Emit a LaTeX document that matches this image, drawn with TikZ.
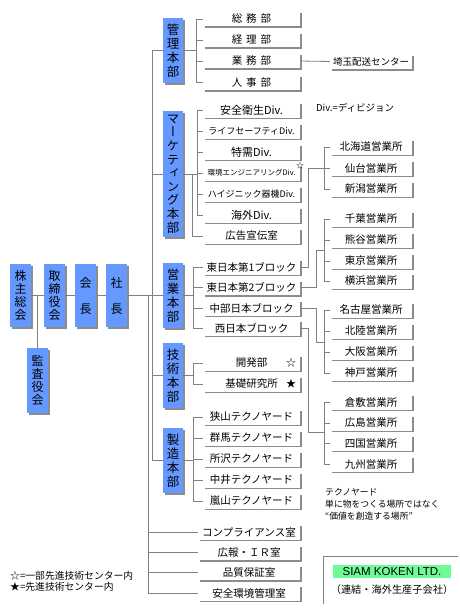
\documentclass[tikz,border=0pt]{standalone}
\usepackage{fontspec}
\setmainfont{Noto Sans CJK JP}
\newfontfamily\jpv[RawFeature=+vert]{Noto Sans CJK JP}
\newfontfamily\arialf{Liberation Sans}
\usetikzlibrary{shadows}
\definecolor{bluebox}{RGB}{102,153,255}
\definecolor{greenbox}{RGB}{110,250,150}
\definecolor{linegray}{RGB}{128,128,128}
\tikzset{
  shad/.style={drop shadow={shadow xshift=1.8pt, shadow yshift=-1.8pt, fill=black, opacity=0.45}},
  wbox/.style={shad, fill=white, minimum width=97pt, minimum height=15pt, inner sep=0pt, font=\fontsize{10.5}{12}\selectfont},
  obox/.style={wbox, minimum width=82pt},
  sbox/.style={wbox, minimum width=102pt},
  bbox/.style={shad, fill=bluebox, minimum width=20pt, inner sep=0pt, align=center, font=\jpv\fontsize{12.5}{14}\selectfont},
  lbox/.style={bbox, minimum width=21pt, minimum height=63pt, font=\jpv\fontsize{12}{13}\selectfont},
  conn/.style={draw=linegray, line width=0.8pt},
  note/.style={inner sep=0pt, align=left},
}
\begin{document}
\begin{tikzpicture}[x=1pt,y=-1pt]
\useasboundingbox[fill=white] (0,0) rectangle (460,610);

% left chain
\node[lbox] (kabunushi) at (20.5,295.5) {株\\主\\総\\会};
\node[lbox] (torishimari) at (54.5,295.5) {取\\締\\役\\会};
\node[lbox] (kaicho) at (85.5,295.5) {会\\[13pt]長};
\node[lbox] (shacho) at (116.5,295.5) {社\\[13pt]長};
\node[lbox, minimum height=65pt] (kansa) at (37.5,380.5) {監\\査\\役\\会};

% divisions
\node[bbox, minimum height=65pt] (kanri) at (173,50.5) {管\\理\\本\\部};
\node[bbox, minimum height=126pt, font=\jpv\fontsize{12.5}{13.6}\selectfont] (mkt) at (173,174) {マ\\ー\\ケ\\テ\\ィ\\ン\\グ\\本\\部};
\node[bbox, minimum height=65pt] (eigyo) at (173,295.5) {営\\業\\本\\部};
\node[bbox, minimum height=65pt] (gijutsu) at (173,375.5) {技\\術\\本\\部};
\node[bbox, minimum height=65pt] (seizo) at (173,460.5) {製\\造\\本\\部};

% kanri boxes
\node[wbox] (soumu) at (251.5,19) {総\hspace{4pt}務\hspace{4pt}部};
\node[wbox] (keiri) at (251.5,40) {経\hspace{4pt}理\hspace{4pt}部};
\node[wbox] (gyomu) at (251.5,61) {業\hspace{4pt}務\hspace{4pt}部};
\node[wbox] (jinji) at (251.5,82.5) {人\hspace{4pt}事\hspace{4pt}部};
\node[obox, font=\fontsize{9.5}{11}\selectfont] (saitama) at (371,61.5) {埼玉配送センター};

% marketing boxes
\node[wbox, font=\fontsize{11}{12}\selectfont] (anzen) at (251.5,110) {安全衛生Div.};
\node[wbox, font=\fontsize{9}{11}\selectfont] (life) at (251.5,131) {ライフセーフティDiv.};
\node[wbox, font=\fontsize{11}{12}\selectfont] (tokuju) at (251.5,152) {特需Div.};
\node[wbox, font=\fontsize{7.5}{9}\selectfont,
      label={[inner sep=0pt, font=\fontsize{8}{8}\selectfont, anchor=center]north east:☆}] (kankyo) at (251.5,173) {環境エンジニアリングDiv.};
\node[wbox, font=\fontsize{9}{11}\selectfont] (hygienic) at (251.5,194) {ハイジニック器機Div.};
\node[wbox, font=\fontsize{11}{12}\selectfont] (kaigai) at (251.5,215) {海外Div.};
\node[wbox] (koukoku) at (251.5,236) {広告宣伝室};
\node[note, anchor=west, font=\fontsize{9.5}{11}\selectfont] (divnote) at (316,108) {Div.=ディビジョン};

% sales blocks
\node[wbox] (higashi1) at (251.5,267) {東日本第1ブロック};
\node[wbox] (higashi2) at (251.5,287.5) {東日本第2ブロック};
\node[wbox] (chubu) at (251.5,308) {中部日本ブロック};
\node[wbox] (nishi) at (251.5,328) {西日本ブロック};

% offices
\node[obox] (hokkaido) at (371,147) {北海道営業所};
\node[obox] (sendai) at (371,168) {仙台営業所};
\node[obox] (niigata) at (371,189) {新潟営業所};
\node[obox] (chiba) at (371,219) {千葉営業所};
\node[obox] (kumagaya) at (371,240) {熊谷営業所};
\node[obox] (tokyo) at (371,261) {東京営業所};
\node[obox] (yokohama) at (371,281) {横浜営業所};
\node[obox] (nagoya) at (371,310) {名古屋営業所};
\node[obox] (hokuriku) at (371,331) {北陸営業所};
\node[obox] (osaka) at (371,352) {大阪営業所};
\node[obox] (kobe) at (371,373) {神戸営業所};
\node[obox] (kurashiki) at (371,402) {倉敷営業所};
\node[obox] (hiroshima) at (371,423) {広島営業所};
\node[obox] (shikoku) at (371,443) {四国営業所};
\node[obox] (kyushu) at (371,464) {九州営業所};

% tech
\node[wbox, label={[inner sep=0pt, anchor=center, xshift=-9pt]east:☆}] (kaihatsu) at (251.5,363) {開発部\hspace{7pt}};
\node[wbox, label={[inner sep=0pt, anchor=center, xshift=-9pt]east:★}] (kiso) at (251.5,384) {基礎研究所\hspace{3pt}};

% manufacturing
\node[wbox] (sayama) at (251.5,417) {狭山テクノヤード};
\node[wbox] (gunma) at (251.5,438) {群馬テクノヤード};
\node[wbox] (tokorozawa) at (251.5,459) {所沢テクノヤード};
\node[wbox] (nakai) at (251.5,480) {中井テクノヤード};
\node[wbox] (ranzan) at (251.5,501) {嵐山テクノヤード};
\node[note, anchor=north west, font=\fontsize{8.8}{12}\selectfont] (technote) at (325,488.5) {テクノヤード\\単に物をつくる場所ではなく\\“価値を創造する場所”};

% staff
\node[sbox] (comp) at (249,532) {コンプライアンス室};
\node[sbox] (kouhou) at (249,552.5) {広報・ＩＲ室};
\node[sbox] (hinshitsu) at (249,572.5) {品質保証室};
\node[sbox] (anzenkankyo) at (249,593) {安全環境管理室};

% legend
\node[note, anchor=north west, font=\fontsize{9.8}{11.5}\selectfont] (legend) at (10,571) {☆=一部先進技術センター内\\★=先進技術センター内};

% SIAM
\node[fill=greenbox, minimum width=118pt, minimum height=13pt, inner sep=0pt, font=\arialf\fontsize{11.5}{12}\selectfont] (siam) at (392,571.5) {SIAM KOKEN LTD.};
\node[inner sep=0pt, font=\fontsize{10.2}{12}\selectfont] (siamsub) at (392,590) {（連結・海外生産子会社）};
\draw[conn] (323,604) -- (323,556) -- (458,556);

% ---------- connectors ----------
\draw[conn] (kabunushi.east) -- (torishimari.west);
\draw[conn] (torishimari.east) -- (kaicho.west);
\draw[conn] (kaicho.east) -- (shacho.west);
\coordinate (kj) at (37.5,295.5);
\draw[conn] (kj) -- (kansa.north);
\draw[conn] (shacho.east) -- (eigyo.west);
% trunk
\draw[conn] (kanri.west) -- ++(-10,0) |- (seizo.west);
\draw[conn] (mkt.west) -- ++(-10,0);
\draw[conn] (gijutsu.west) -- ++(-10,0);
% staff trunk
\coordinate (s2) at (148,295.5);
\draw[conn] (s2) |- (anzenkankyo.west);
\foreach \n in {comp,kouhou,hinshitsu} \draw[conn] (\n.west) -- (s2|-\n.west);

% kanri
\draw[conn] (kanri.east) -- ++(14,0);
\draw[conn] (soumu.west) -- ++(-6,0) |- (jinji.west);
\foreach \n in {keiri,gyomu} \draw[conn] (\n.west) -- ++(-6,0);
\draw[conn] (gyomu.east) -- (saitama.west);

% marketing
\draw[conn] (mkt.east) -- ++(15,0);
\draw[conn] (anzen.west) -- ++(-5,0) |- (kaigai.west);
\foreach \n in {life,tokuju,kankyo,hygienic} \draw[conn] (\n.west) -- ++(-5,0);
\draw[conn] (mkt.east) ++(9,0) |- (koukoku.west);

% sales
\draw[conn] (eigyo.east) -- ++(11,0);
\draw[conn] (higashi1.west) -- ++(-9,0) |- (nishi.west);
\foreach \n in {higashi2,chubu} \draw[conn] (\n.west) -- ++(-9,0);

\draw[conn] (higashi1.east) -- ++(8,0) |- (sendai.west);
\draw[conn] (hokkaido.west) -- ++(-5,0) |- (niigata.west);

\coordinate (g2) at (325,250);
\draw[conn] (higashi2.east) -- ++(16,0) |- (g2);
\draw[conn] (chiba.west) -- ++(-5,0) |- (yokohama.west);
\foreach \n in {kumagaya,tokyo} \draw[conn] (\n.west) -- ++(-5,0);

\coordinate (g3) at (325,342);
\draw[conn] (chubu.east) -- ++(16,0) |- (g3);
\draw[conn] (nagoya.west) -- ++(-5,0) |- (kobe.west);
\foreach \n in {hokuriku,osaka} \draw[conn] (\n.west) -- ++(-5,0);

\coordinate (g4) at (325,432);
\draw[conn] (nishi.east) -- ++(8,0) |- (g4);
\draw[conn] (kurashiki.west) -- ++(-5,0) |- (kyushu.west);
\foreach \n in {hiroshima,shikoku} \draw[conn] (\n.west) -- ++(-5,0);

% tech
\draw[conn] (gijutsu.east) -- ++(11,0);
\draw[conn] (kaihatsu.west) -- ++(-9,0) |- (kiso.west);

% manufacturing
\draw[conn] (seizo.east) -- ++(11,0);
\draw[conn] (sayama.west) -- ++(-9,0) |- (ranzan.west);
\foreach \n in {gunma,tokorozawa,nakai} \draw[conn] (\n.west) -- ++(-9,0);
\end{tikzpicture}
\end{document}
